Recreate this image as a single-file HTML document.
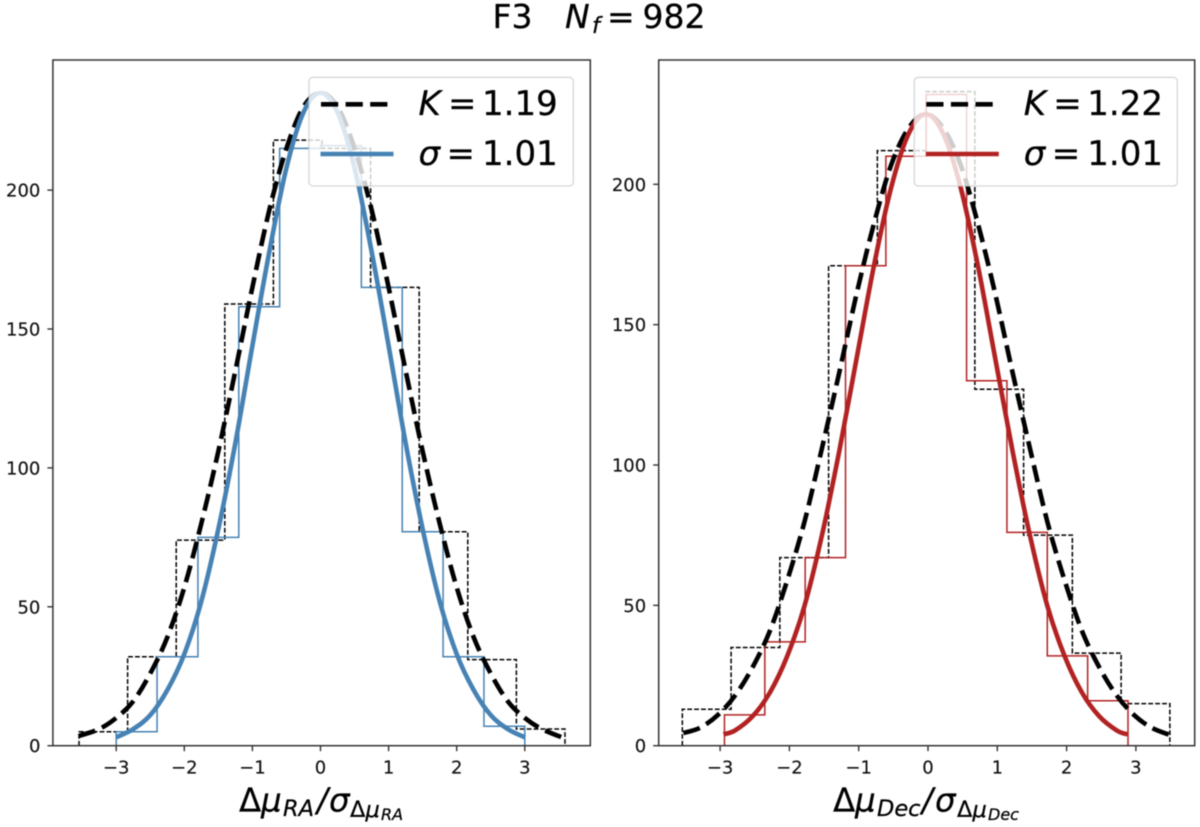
<!DOCTYPE html>
<html lang="en">
<head>
<meta charset="utf-8">
<title>F3 histograms</title>
<style>
html,body{margin:0;padding:0;background:#fff;width:1200px;height:827px;overflow:hidden}
svg{display:block;filter:blur(0.6px)}
text{font-family:"DejaVu Sans","Liberation Sans",sans-serif;fill:#000;stroke:#000;stroke-width:0.25px}
.tick{font-size:18px;fill:#111;stroke:#111;stroke-width:0.15px}
.it{font-style:italic}
</style>
</head>
<body>
<svg id="fig" xmlns="http://www.w3.org/2000/svg" width="1200" height="827" viewBox="0 0 1200 827">
  <rect x="0" y="0" width="1200" height="827" fill="#fff"/>
  <text y="28" font-size="33"><tspan x="492.5">F3</tspan><tspan x="565" class="it">N</tspan><tspan x="592" y="33" font-size="22.5" class="it">f</tspan><tspan x="607" y="28">=</tspan><tspan x="642.5">982</tspan></text>
  <g id="panel-a"></g>
  <g id="panel-b"></g>
  <text y="811.5" font-size="32.5"><tspan x="239">Δ</tspan><tspan x="261" class="it">μ</tspan><tspan x="283" y="816" font-size="22.5" class="it">RA</tspan><tspan x="317" y="811.5" class="it">/</tspan><tspan x="329" class="it">σ</tspan><tspan x="350" y="817" font-size="22.5">Δ</tspan><tspan x="365.5" font-size="22.5" class="it">μ</tspan><tspan x="381" y="820" font-size="16" class="it">RA</tspan></text>
  <text y="811.5" font-size="32.5"><tspan x="833">Δ</tspan><tspan x="855" class="it">μ</tspan><tspan x="877" y="816" font-size="22.5" class="it">Dec</tspan><tspan x="922" y="811.5" class="it">/</tspan><tspan x="935" class="it">σ</tspan><tspan x="957" y="817" font-size="22.5">Δ</tspan><tspan x="972.5" font-size="22.5" class="it">μ</tspan><tspan x="988" y="820" font-size="16" class="it">Dec</tspan></text>
</svg>
<script>
// ---------- shared tick labels ----------
const xTickValues = [-3, -2, -1, 0, 1, 2, 3];
const yTickValues = [0, 50, 100, 150, 200];

// ---------- RA panel data ----------
const raFitCounts = [5, 32, 75, 158, 215, 216, 165, 77, 32, 7];
const raFitEdgeLow = -3.0;
const raFitEdgeHigh = 3.0;
const raKCounts = [5, 32, 74, 159, 218, 215, 165, 77, 31, 6];
const raKEdgeLow = -3.546;
const raKEdgeHigh = 3.59;
const raFitCurveX = [-3, -2.75, -2.5, -2.25, -2, -1.75, -1.5, -1.25, -1, -0.75, -0.5, -0.25, 0, 0.25, 0.5, 0.75, 1, 1.25, 1.5, 1.75, 2, 2.25, 2.5, 2.75, 3];
const raFitCurveY = [3, 6, 11, 20, 33, 52, 78, 109, 144, 178, 208, 228, 235, 228, 208, 178, 144, 109, 78, 52, 33, 20, 11, 6, 3];
const raKCurveX = [-3.55, -3.25, -3, -2.75, -2.5, -2.25, -2, -1.75, -1.5, -1.25, -1, -0.75, -0.5, -0.25, 0, 0.25, 0.5, 0.75, 1, 1.25, 1.5, 1.75, 2, 2.25, 2.5, 2.75, 3, 3.25, 3.6];
const raKCurveY = [3.5, 6, 10, 16, 26, 39, 57, 80, 106, 135, 165, 193, 215, 230, 235, 230, 215, 193, 165, 135, 106, 80, 57, 39, 26, 16, 10, 6, 2.5];

// ---------- Dec panel data ----------
const decFitCounts = [11, 37, 67, 171, 210, 232, 130, 76, 32, 16];
const decFitEdgeLow = -2.937;
const decFitEdgeHigh = 2.886;
const decKCounts = [13, 35, 67, 171, 212, 233, 127, 75, 33, 15];
const decKEdgeLow = -3.545;
const decKEdgeHigh = 3.49;
const decFitCurveX = [-2.95, -2.78, -2.53, -2.28, -2.03, -1.78, -1.53, -1.28, -1.03, -0.78, -0.53, -0.28, -0.03, 0.22, 0.47, 0.72, 0.97, 1.22, 1.47, 1.72, 1.97, 2.22, 2.47, 2.72, 2.88];
const decFitCurveY = [4, 5.5, 10.5, 19, 32, 50, 75, 105, 138, 171, 199, 218, 225, 218, 199, 171, 138, 105, 75, 50, 32, 19, 10.5, 5.5, 4];
const decKCurveX = [-3.53, -3.28, -3.03, -2.78, -2.53, -2.28, -2.03, -1.78, -1.53, -1.28, -1.03, -0.78, -0.53, -0.28, -0.03, 0.22, 0.47, 0.72, 0.97, 1.22, 1.47, 1.72, 1.97, 2.22, 2.47, 2.72, 2.97, 3.22, 3.49];
const decKCurveY = [4.5, 6.5, 11, 18, 28, 41, 59, 80, 106, 133, 161, 186, 207, 220, 225, 220, 207, 186, 161, 133, 106, 80, 59, 41, 28, 18, 11, 6.5, 3.8];

const NS = 'http://www.w3.org/2000/svg';
function mk(parent, tag, attrs, txt) {
  const e = document.createElementNS(NS, tag);
  for (const k in attrs) e.setAttribute(k, attrs[k]);
  if (txt !== undefined) e.textContent = txt;
  parent.appendChild(e);
  return e;
}
function smoothPath(xs, ys, sx, sy) {
  const p = xs.map((x, i) => [sx(x), sy(ys[i])]);
  let d = 'M' + p[0][0].toFixed(2) + ' ' + p[0][1].toFixed(2);
  for (let i = 0; i < p.length - 1; i++) {
    const a = p[Math.max(i - 1, 0)], b = p[i], c = p[i + 1], f = p[Math.min(i + 2, p.length - 1)];
    d += 'C' + (b[0] + (c[0] - a[0]) / 6).toFixed(2) + ' ' + (b[1] + (c[1] - a[1]) / 6).toFixed(2) + ' ' +
      (c[0] - (f[0] - b[0]) / 6).toFixed(2) + ' ' + (c[1] - (f[1] - b[1]) / 6).toFixed(2) + ' ' +
      c[0].toFixed(2) + ' ' + c[1].toFixed(2);
  }
  return d;
}
function stepPath(counts, lo, hi, sx, sy) {
  const w = (hi - lo) / counts.length;
  let d = 'M' + sx(lo).toFixed(2) + ' ' + sy(0).toFixed(2);
  counts.forEach((c, i) => {
    d += 'L' + sx(lo + i * w).toFixed(2) + ' ' + sy(c).toFixed(2);
    d += 'L' + sx(lo + (i + 1) * w).toFixed(2) + ' ' + sy(c).toFixed(2);
  });
  d += 'L' + sx(hi).toFixed(2) + ' ' + sy(0).toFixed(2);
  return d;
}
function drawPanel(cfg) {
  const g = document.getElementById(cfg.id);
  const sx = v => cfg.x0 + v * cfg.xUnit;
  const sy = v => cfg.yBase - v * cfg.yUnit;

  const bg = mk(g, 'rect', {x: cfg.left, y: cfg.top, width: cfg.right - cfg.left, height: cfg.yBase - cfg.top, fill: '#fff'});
  
  

  const histK = mk(g, 'path', {d: stepPath(cfg.kCounts, cfg.kLo, cfg.kHi, sx, sy), fill: 'none', stroke: '#000', 'stroke-width': 1.5, 'stroke-dasharray': '4.8 2.1'});
  
  

  const histFit = mk(g, 'path', {d: stepPath(cfg.fitCounts, cfg.fitLo, cfg.fitHi, sx, sy), fill: 'none', stroke: cfg.color, 'stroke-width': 1.5});
  
  

  const curveK = mk(g, 'path', {d: smoothPath(cfg.kCurveX, cfg.kCurveY, sx, sy), fill: 'none', stroke: '#000', 'stroke-width': 4.6, 'stroke-dasharray': '17.2 7.4'});
  
  

  const curveFit = mk(g, 'path', {d: smoothPath(cfg.fitCurveX, cfg.fitCurveY, sx, sy), fill: 'none', stroke: cfg.color, 'stroke-width': 4.6});
  
  

  const frame = mk(g, 'rect', {x: cfg.left, y: cfg.top, width: cfg.right - cfg.left, height: cfg.yBase - cfg.top, fill: 'none', stroke: '#333', 'stroke-width': 1.5});
  
  

  xTickValues.forEach(v => {
    const t = mk(g, 'line', {x1: sx(v), x2: sx(v), y1: cfg.yBase, y2: cfg.yBase + 5.5, stroke: '#333', 'stroke-width': 1.4});
    
    
    const l = mk(g, 'text', {x: sx(v), y: 773.5, 'text-anchor': 'middle', class: 'tick'}, String(v).replace('-', '\u2212'));
    
    
  });
  yTickValues.forEach(v => {
    const t = mk(g, 'line', {x1: cfg.left - 5.5, x2: cfg.left, y1: sy(v), y2: sy(v), stroke: '#333', 'stroke-width': 1.4});
    
    
    const l = mk(g, 'text', {x: cfg.left - 12.5, y: sy(v) + 6.5, 'text-anchor': 'end', class: 'tick'}, String(v));
    
    
  });

  const leg = mk(g, 'g', {});
  
  
  const box = mk(leg, 'rect', {x: cfg.legX, y: 77.3, width: cfg.legW, height: 108.7, rx: 4, ry: 4, fill: 'rgba(255,255,255,0.8)', stroke: 'rgba(204,204,204,0.8)', 'stroke-width': 1.3});
  
  

  const h1 = mk(leg, 'line', {x1: cfg.legX + 12, x2: cfg.legX + 83, y1: 104.3, y2: 104.3, stroke: '#000', 'stroke-width': 4.6, 'stroke-dasharray': '17.2 7.4'});
  
  
  const h2 = mk(leg, 'line', {x1: cfg.legX + 11.5, x2: cfg.legX + 84.5, y1: 154, y2: 154, stroke: cfg.color, 'stroke-width': 4.6});
  
  

  const rows = [[115, 'K', 139, cfg.kText], [165, '\u03c3', 137.5, cfg.sText]];
  rows.forEach(r => {
    const tx = mk(leg, 'text', {y: r[0], 'font-size': 34});
    
    
    mk(tx, 'tspan', {x: cfg.legX + 109.5, class: 'it'}, r[1]);
    mk(tx, 'tspan', {x: cfg.legX + r[2]}, '=');
    mk(tx, 'tspan', {x: cfg.legX + 173}, r[3]);
  });
}

drawPanel({
  id: 'panel-a', left: 52.9, right: 590.3, top: 60, yBase: 745.7,
  x0: 320.5, xUnit: 68.1, yUnit: 2.778, color: '#4682b4',
  fitCounts: raFitCounts, fitLo: raFitEdgeLow, fitHi: raFitEdgeHigh,
  kCounts: raKCounts, kLo: raKEdgeLow, kHi: raKEdgeHigh,
  fitCurveX: raFitCurveX, fitCurveY: raFitCurveY,
  kCurveX: raKCurveX, kCurveY: raKCurveY,
  legX: 309, legW: 264.3, kText: '1.19', sText: '1.01'
});
drawPanel({
  id: 'panel-b', left: 658.7, right: 1194.7, top: 60, yBase: 745.7,
  x0: 928, xUnit: 69.3, yUnit: 2.807, color: '#b22222',
  fitCounts: decFitCounts, fitLo: decFitEdgeLow, fitHi: decFitEdgeHigh,
  kCounts: decKCounts, kLo: decKEdgeLow, kHi: decKEdgeHigh,
  fitCurveX: decFitCurveX, fitCurveY: decFitCurveY,
  kCurveX: decKCurveX, kCurveY: decKCurveY,
  legX: 914.3, legW: 263, kText: '1.22', sText: '1.01'
});
</script>
</body>
</html>
